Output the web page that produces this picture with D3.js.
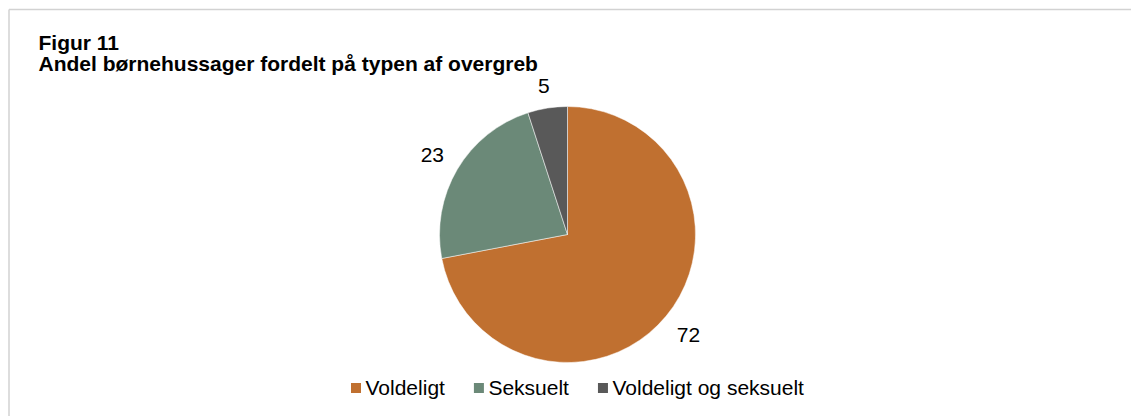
<!DOCTYPE html>
<html>
<head>
<meta charset="utf-8">
<script src="https://cdn.jsdelivr.net/npm/d3@7/dist/d3.min.js"></script>
<style>
  html, body { margin: 0; padding: 0; background: #fff; }
  svg { display: block; font-family: "Liberation Sans", Arial, Helvetica, sans-serif; }
</style>
</head>
<body>
<div id="chart"></div>
<script>
'use strict';

// ── Data ──────────────────────────────────────────────────────────────────────
const TITLE_LINES = ['Figur 11', 'Andel børnehussager fordelt på typen af overgreb'];
const CATEGORIES  = ['Voldeligt', 'Seksuelt', 'Voldeligt og seksuelt'];
const VALUES      = [72, 23, 5];
const COLORS      = ['#c07030', '#6b8978', '#595959'];

// ── Layout ────────────────────────────────────────────────────────────────────
const W = 1131, H = 416;
const CX = 567.5, CY = 234.5, R = 128;
const LABEL_GAP = 15;

const svg = d3.select('#chart').append('svg')
  .attr('width', W)
  .attr('height', H);

// frame (only top and left edges are visible in the crop)
svg.append('line').attr('x1', 9).attr('x2', W).attr('y1', 9.5).attr('y2', 9.5)
  .attr('stroke', '#d2d2d2').attr('stroke-width', 1.5);
svg.append('line').attr('x1', 9).attr('x2', 9).attr('y1', 9.5).attr('y2', H)
  .attr('stroke', '#d2d2d2').attr('stroke-width', 1.5);

// title
svg.append('g').selectAll('text')
  .data(TITLE_LINES)
  .enter().append('text')
  .attr('x', 38.5)
  .attr('y', (d, i) => 50 + i * 20.5)
  .attr('font-size', 21)
  .attr('font-weight', 'bold')
  .attr('fill', '#000')
  .text(d => d);

// ── Pie ───────────────────────────────────────────────────────────────────────
const data = CATEGORIES.map((c, i) => ({ cat: c, value: VALUES[i], color: COLORS[i] }));

const pie = d3.pie().sort(null).value(d => d.value);
const arc = d3.arc().innerRadius(0).outerRadius(R);
const arcs = pie(data);

const pieG = svg.append('g').attr('transform', `translate(${CX},${CY})`);

pieG.selectAll('path')
  .data(arcs)
  .enter().append('path')
  .attr('d', arc)
  .attr('fill', d => d.data.color)
  .attr('stroke', '#fff')
  .attr('stroke-width', 0.5);

// outside-end labels: box pushed out along the mid angle
const labels = pieG.selectAll('text.val')
  .data(arcs)
  .enter().append('text')
  .attr('class', 'val')
  .attr('font-size', 21)
  .attr('fill', '#000')
  .attr('text-anchor', 'middle')
  .text(d => d.data.value);

labels.each(function (d) {
  const bb = this.getBBox();
  const a  = (d.startAngle + d.endAngle) / 2;
  const sx = Math.sin(a), sy = -Math.cos(a);
  const hw = bb.width / 2, hh = 7.8;
  const dist = R + LABEL_GAP + Math.abs(sx) * hw + Math.abs(sy) * hh;
  const x = sx * dist, y = sy * dist;
  d3.select(this).attr('x', x).attr('y', y + hh);
});

// ── Legend ────────────────────────────────────────────────────────────────────
const legend = svg.append('g').attr('transform', 'translate(351,383)');
let ox = 0;
data.forEach(d => {
  legend.append('rect')
    .attr('x', ox).attr('y', 0)
    .attr('width', 10).attr('height', 10)
    .attr('fill', d.color);
  const t = legend.append('text')
    .attr('x', ox + 14.5).attr('y', 11.7)
    .attr('font-size', 21)
    .attr('fill', '#000')
    .text(d.cat);
  ox += 14.5 + t.node().getComputedTextLength() + 29;
});
</script>
</body>
</html>
